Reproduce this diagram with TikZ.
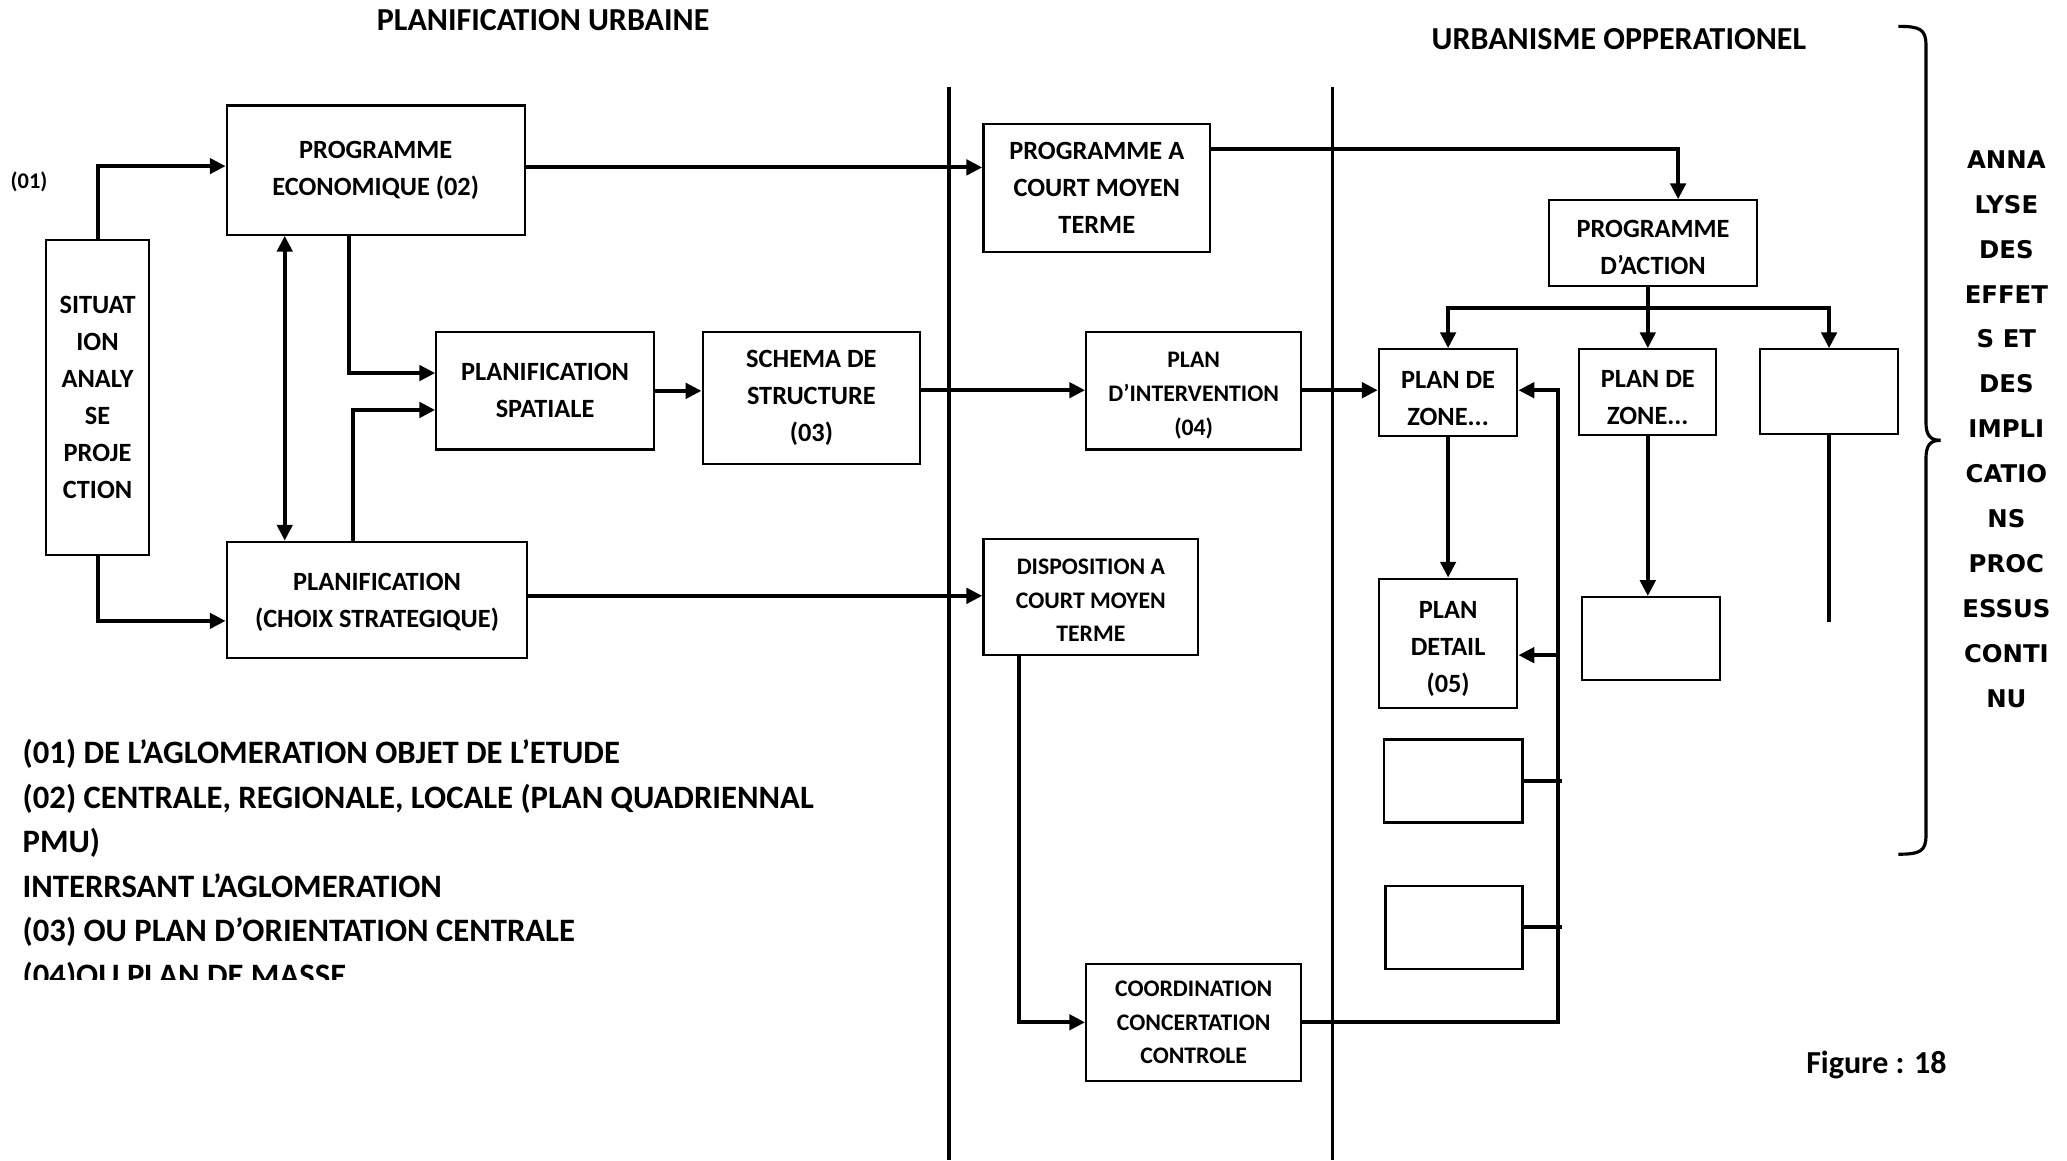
\documentclass[tikz,border=0pt]{standalone}
\usepackage{fontspec}
\setmainfont{Carlito}
\newfontfamily\dejavu{DejaVu Sans}
\usetikzlibrary{arrows.meta}
% strut that lowers the text block inside a box by #1
\newcommand\lowerby[1]{\rule{0pt}{\dimexpr 13pt+2\dimexpr#1\relax\relax}}
\begin{document}
\begin{tikzpicture}[x=1pt,y=-1pt,
  box/.style={draw, line width=1.7pt, inner sep=0pt, align=center,
    font=\fontsize{20}{28}\selectfont\bfseries},
  smallbox/.style={box, font=\fontsize{18}{25.5}\selectfont\bfseries},
  tip/.tip={Triangle[length=12pt,width=11.5pt]},
  link/.style={line width=3pt},
  conn/.style={link, -tip},
  dconn/.style={link, tip-tip},
  sep/.style={line width=2.6pt},
  lbl/.style={font=\fontsize{24.3}{34}\selectfont\bfseries, inner sep=0pt},
  note/.style={font=\fontsize{24.8}{34}\selectfont\bfseries, inner sep=0pt, anchor=base west}
]
\useasboundingbox (0,0) rectangle (1568,880);

% column separators
\draw[sep] (720,66) -- (720,880);
\draw[sep] (1011,66) -- (1011,880);

% headings
\node[lbl] (t1) at (412,15) {PLANIFICATION URBAINE};
\node[lbl] (t2) at (1228,30) {URBANISME OPPERATIONEL};
\node[font=\fontsize{17}{17}\selectfont\bfseries, inner sep=0pt] (n01) at (22,138) {(01)};

% planning column
\node[box, minimum width=78pt, minimum height=239pt] (sit) at (74,301.5)
  {SITUAT\\ION\\ANALY\\SE\\PROJE\\CTION};
\node[box, minimum width=226pt, minimum height=98pt] (pe) at (285,129)
  {PROGRAMME\\ECONOMIQUE (02)};
\node[box, minimum width=228pt, minimum height=88pt] (pc) at (286,455)
  {\lowerby{2pt}PLANIFICATION\\(CHOIX STRATEGIQUE)};
\node[box, minimum width=165pt, minimum height=89pt] (ps) at (413.5,296.5)
  {PLANIFICATION\\SPATIALE};
\node[box, minimum width=165pt, minimum height=100pt] (sch) at (615.5,302)
  {SCHEMA DE\\STRUCTURE\\(03)};

% middle column
\node[box, minimum width=172pt, minimum height=97pt] (pcm) at (832,142.5)
  {PROGRAMME A\\COURT MOYEN\\TERME};
\node[smallbox, minimum width=163pt, minimum height=89pt] (pint) at (905.5,296.5)
  {\lowerby{3pt}PLAN\\D’INTERVENTION\\(04)};
\node[smallbox, minimum width=163pt, minimum height=88pt] (disp) at (827.5,453)
  {\lowerby{2pt}DISPOSITION A\\COURT MOYEN\\TERME};
\node[smallbox, minimum width=163pt, minimum height=89pt] (coord) at (905.5,775.5)
  {COORDINATION\\CONCERTATION\\CONTROLE};

% operational column
\node[box, minimum width=158pt, minimum height=65pt] (pact) at (1254,184.5)
  {\lowerby{3pt}PROGRAMME\\D’ACTION};
\node[box, minimum width=105pt, minimum height=66pt] (z1) at (1098.5,298)
  {\lowerby{4pt}PLAN DE\\ZONE...};
\node[box, minimum width=104pt, minimum height=65pt] (z2) at (1250,297.5)
  {\lowerby{4pt}PLAN DE\\ZONE...};
\node[box, minimum width=105pt, minimum height=64pt] (z3) at (1387.5,297) {};
\node[box, minimum width=105pt, minimum height=98pt] (pdet) at (1098.5,488)
  {\lowerby{4pt}PLAN\\DETAIL\\(05)};
\node[box, minimum width=105pt, minimum height=63pt] (e2) at (1252.5,484.5) {};
\node[box, minimum width=105pt, minimum height=63pt] (ea) at (1102.5,592.5) {};
\node[box, minimum width=104pt, minimum height=63pt] (eb) at (1103,703.5) {};

% connectors, planning column
\draw[conn] (sit.north) |- (pe.west |- 0,126);
\draw[conn] (sit.south) |- (pc.west |- 0,471);
\draw[dconn] (pe.south -| 216,0) -- (pc.north -| 216,0);
\draw[conn] (pe.south -| 265,0) |- (ps.west |- 0,283);
\draw[conn] (pc.north -| 268,0) |- (ps.west |- 0,311);
\draw[conn] (ps.east) -- (ps.east -| sch.west);
\draw[conn] (sch.east |- 0,296) -- (pint.west |- 0,296);
\draw[conn] (pe.east |- 0,127) -- (pcm.west |- 0,127);
\draw[conn] (pc.east |- 0,452) -- (disp.west |- 0,452);

% connectors, operational column
\draw[conn] (pcm.east |- 0,113) -| (pact.north -| 1273,0);
\draw[conn] (pint.east |- 0,296) -- (z1.west |- 0,296);
\coordinate (bus) at (z2.north |- 0,234);
\draw[conn] (bus) -| (z1.north);
\draw[conn] (bus) -| (z3.north);
\draw[conn] (pact.south -| z2.north) -- (z2.north);
\draw[conn] (z1.south) -- (pdet.north);
\draw[conn] (z2.south) -- (z2.south |- e2.north);
\coordinate (z3end) at (z3.south |- 0,472);
\draw[link] (z3.south) -- (z3end);
\draw[conn] (disp.south -| 773,0) |- (coord.west);
\coordinate (railtop) at (1182,296);
\draw[conn] (coord.east) -| (railtop) -- (z1.east |- railtop);
\draw[conn] (railtop |- 0,497) -- (pdet.east |- 0,497);
\draw[link] (ea.east) -- (ea.east -| 1185,0);
\draw[link] (eb.east) -- (eb.east -| 1185,0);

% brace and side text
\draw[line width=2.4pt] (1440,20) .. controls (1456,20) and (1461,22) .. (1461,34)
  -- (1461,320) .. controls (1461,330) and (1464,334) .. (1472,334);
\draw[line width=2.4pt] (1472,334) .. controls (1464,334) and (1461,338) .. (1461,348)
  -- (1461,634) .. controls (1461,646) and (1456,648) .. (1440,648);
\node[font=\dejavu\bfseries\fontsize{18.5}{34.08}\selectfont, align=center, inner sep=0pt]
  (side) at (1522,325.5)
  {ANNA\\LYSE\\DES\\EFFET\\S ET\\DES\\IMPLI\\CATIO\\NS\\PROC\\ESSUS\\CONTI\\NU};

% notes
\node[note] (f1) at (17,579) {(01) DE L’AGLOMERATION OBJET DE L’ETUDE};
\node[note] (f2) at (17,613) {(02) CENTRALE, REGIONALE, LOCALE (PLAN QUADRIENNAL};
\node[note] (f3) at (17,647) {PMU)};
\node[note] (f4) at (17,681) {INTERRSANT L’AGLOMERATION};
\node[note] (f5) at (17,714) {(03) OU PLAN D’ORIENTATION CENTRALE};
\begin{scope}
  \clip (0,720) rectangle (900,743);
  \node[note] (f6) at (17,748) {(04)OU PLAN DE MASSE};
\end{scope}

\node[lbl, anchor=base west] (fig) at (1370,814) {Figure : 18};
\end{tikzpicture}
\end{document}
